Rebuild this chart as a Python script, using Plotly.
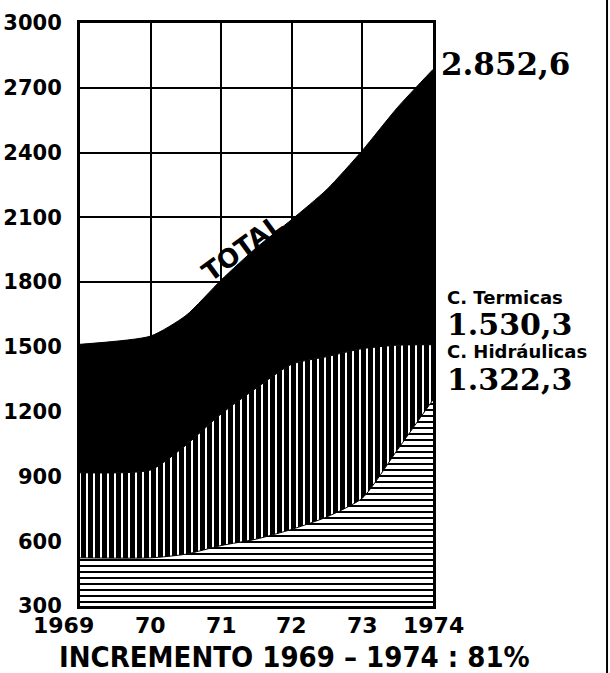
import plotly.graph_objects as go

# ---- data ----
years = [1969, 1970, 1970.5, 1971, 1971.5, 1972, 1972.5, 1973, 1973.5, 1974]
total = [1512, 1550, 1645, 1810, 1960, 2090, 2230, 2410, 2610, 2785]
termicas_top = [917, 930, 1045, 1190, 1310, 1420, 1455, 1492, 1508, 1510]
horizontal_band = [523, 523, 540, 580, 610, 655, 713, 800, 1025, 1255]

y_ticks = [300, 600, 900, 1200, 1500, 1800, 2100, 2400, 2700, 3000]
x_ticks = [1969, 1970, 1971, 1972, 1973, 1974]
x_ticktext = ["1969", "70", "71", "72", "73", "1974"]

label_total = "2.852,6"
label_term = "C. Termicas"
value_term = "1.530,3"
label_hidr = "C. Hidráulicas"
value_hidr = "1.322,3"
title_text = "INCREMENTO 1969 – 1974 : 81%"

fig = go.Figure()

fig.add_trace(go.Scatter(
    x=years, y=horizontal_band, mode="lines", line=dict(color="black", width=1, shape="spline", smoothing=0.6),
    fill="tozeroy", fillcolor="white",
    fillpattern=dict(shape="-", fgcolor="black", bgcolor="white", fgopacity=1, size=6, solidity=0.3333),
    hoverinfo="skip"))
fig.add_trace(go.Scatter(
    x=years, y=termicas_top, mode="lines", line=dict(color="black", width=1, shape="spline", smoothing=0.6),
    fill="tonexty", fillcolor="white",
    fillpattern=dict(shape="|", fgcolor="black", bgcolor="white", fgopacity=1, size=7, solidity=0.7143),
    hoverinfo="skip"))
fig.add_trace(go.Scatter(
    x=years, y=total, mode="lines", line=dict(color="black", width=1, shape="spline", smoothing=0.6),
    fill="tonexty", fillcolor="black", hoverinfo="skip"))

bold_sans = dict(family="DejaVu Sans", weight="bold", color="black")
bold_serif = dict(family="DejaVu Serif", weight="bold", color="black")

ann = []
for xv, t in zip(x_ticks, x_ticktext):
    ann.append(dict(x=xv, y=-0.008, xref="x", yref="paper", text=t, showarrow=False,
                    xshift=-17 if t == "1969" else 0, yanchor="top",
                    font=dict(size=22, **bold_sans)))

ann.append(dict(x=1971.3, y=1960, xref="x", yref="y", text="TOTAL", showarrow=False,
                textangle=-36, font=dict(size=26, **bold_sans)))

ann.append(dict(x=1.018, y=0.93, xref="paper", yref="paper", text=label_total, showarrow=False,
                xanchor="left", yanchor="middle", font=dict(size=31, **bold_serif)))
ann.append(dict(x=1.035, y=0.53, xref="paper", yref="paper", text=label_term, showarrow=False,
                xanchor="left", yanchor="middle", font=dict(size=18, **bold_sans)))
ann.append(dict(x=1.035, y=0.482, xref="paper", yref="paper", text=value_term, showarrow=False,
                xanchor="left", yanchor="middle", font=dict(size=30, **bold_serif)))
ann.append(dict(x=1.035, y=0.436, xref="paper", yref="paper", text=label_hidr, showarrow=False,
                xanchor="left", yanchor="middle", font=dict(size=18, **bold_sans)))
ann.append(dict(x=1.035, y=0.388, xref="paper", yref="paper", text=value_hidr, showarrow=False,
                xanchor="left", yanchor="middle", font=dict(size=30, **bold_serif)))

ann.append(dict(x=-0.065, y=-0.088, xref="paper", yref="paper", text=title_text, showarrow=False,
                xanchor="left", yanchor="middle",
                font=dict(family="DejaVu Sans Condensed, DejaVu Sans", weight="bold", size=29, color="black")))

fig.update_layout(
    width=610, height=673,
    margin=dict(l=80, r=177, t=23, b=67, autoexpand=False),
    paper_bgcolor="white", plot_bgcolor="white",
    showlegend=False,
    annotations=ann,
    shapes=[dict(type="line", xref="paper", yref="paper", x0=1.493, x1=1.493, y0=-0.12, y1=1.045,
                 line=dict(color="black", width=2))],
    xaxis=dict(range=[1969, 1974], tickvals=x_ticks, showticklabels=False, automargin=False,
               showgrid=True, gridcolor="black", gridwidth=2,
               showline=True, linecolor="black", linewidth=3, mirror=True, zeroline=False),
    yaxis=dict(range=[300, 3000], tickvals=y_ticks, ticktext=[str(v) for v in y_ticks], automargin=False,
               showgrid=True, gridcolor="black", gridwidth=2,
               showline=True, linecolor="black", linewidth=3, mirror=True, zeroline=False,
               ticklabelstandoff=11, tickfont=dict(size=21, **bold_sans)),
)

fig.write_html("out.html", config={"displayModeBar": False},
               post_script="document.body.style.margin='0';document.body.style.padding='0';")
